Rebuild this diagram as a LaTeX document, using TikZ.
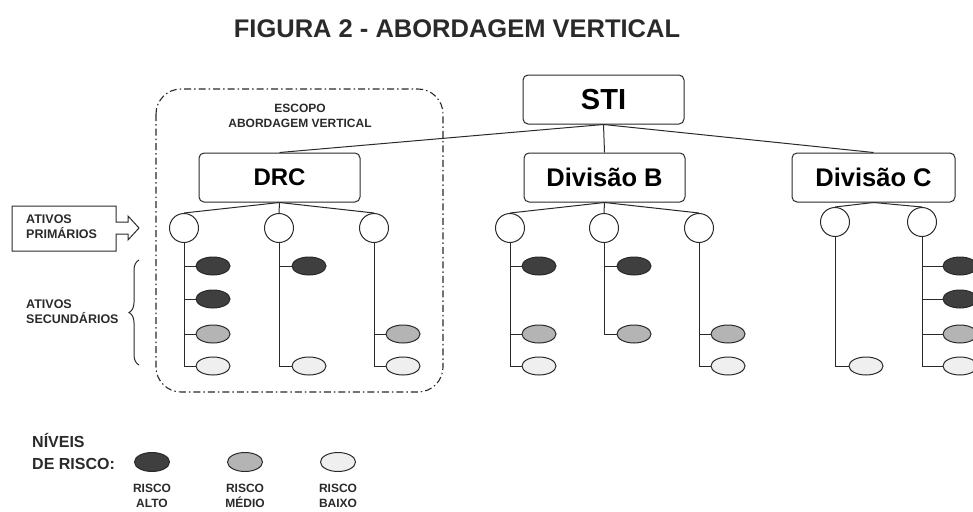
\documentclass[tikz,border=0pt]{standalone}
\usepackage{fontspec}
\setmainfont{Liberation Sans}
\usetikzlibrary{shapes.geometric,decorations.pathreplacing}

\definecolor{riskhigh}{HTML}{3F3F3F}
\definecolor{riskmid}{HTML}{B4B4B4}
\definecolor{risklow}{HTML}{EFEFEF}
\definecolor{ink}{HTML}{2A2A2A}

\begin{document}
\begin{tikzpicture}[x=1pt,y=-1pt,
  unitbox/.style={draw=ink, rounded corners=5pt, line width=1pt, fill=white,
    minimum width=161pt, minimum height=49pt, inner sep=0pt,
    font=\fontsize{24}{28}\selectfont\bfseries},
  asset/.style={circle, draw=ink, line width=1pt, fill=white,
    minimum size=29pt, inner sep=0pt},
  risk/.style={ellipse, draw=ink, line width=1pt,
    minimum width=34pt, minimum height=18pt, inner sep=0pt},
  alto/.style={risk, fill=riskhigh},
  medio/.style={risk, fill=riskmid},
  baixo/.style={risk, fill=risklow},
  link/.style={draw=ink, line width=1pt},
  small/.style={font=\fontsize{12.5}{15}\selectfont\bfseries, text=ink, inner sep=0pt},
  tiny/.style={font=\fontsize{12}{15}\selectfont\bfseries, text=ink, inner sep=0pt, align=center},
]
\useasboundingbox (0,0) rectangle (973,511);
\clip (0,0) rectangle (973,511);

% title
\node[font=\fontsize{25.5}{30}\selectfont\bfseries, text=ink] (title) at (457,29) {FIGURA 2 - ABORDAGEM VERTICAL};

% scope frame
\draw[draw=ink, line width=1.1pt, rounded corners=25pt,
  dash pattern=on 7pt off 3pt on 1.5pt off 3pt] (156,89) rectangle (443,392);
\node[tiny] (scope) at (300,115.5) {ESCOPO\\ABORDAGEM VERTICAL};

% hierarchy boxes
\node[unitbox, font=\fontsize{29}{32}\selectfont\bfseries] (sti) at (603.5,99.5) {STI};
\node[unitbox] (drc) at (279.5,177.5) {DRC};
\node[unitbox, font=\fontsize{25.5}{30}\selectfont\bfseries] (divb) at (604.5,177.5) {Divisão B};
\node[unitbox, minimum width=163pt, font=\fontsize{25.5}{30}\selectfont\bfseries] (divc) at (873.5,177.5) {Divisão C};

\draw[link] (sti.south) -- (drc.north);
\draw[link] (sti.south) -- (divb.north);
\draw[link] (sti.south) -- (divc.north);

% primary assets
\node[asset] (d1) at (184,228) {};
\node[asset] (d2) at (279,228) {};
\node[asset] (d3) at (374,228) {};
\node[asset] (b1) at (510,228) {};
\node[asset] (b2) at (604,228) {};
\node[asset] (b3) at (699,228) {};
\node[asset] (c1) at (835,222) {};
\node[asset] (c2) at (922,222) {};

\foreach \p in {d1,d2,d3} \draw[link] (drc.south) -- (\p.north);
\foreach \p in {b1,b2,b3} \draw[link] (divb.south) -- (\p.north);
\foreach \p in {c1,c2} \draw[link] (divc.south) -- (\p.north);

% secondary assets
\node[alto]  (d1a) at (213,266) {};
\node[alto]  (d1b) at (213,299) {};
\node[medio] (d1c) at (213,334) {};
\node[baixo] (d1d) at (213,366) {};
\node[alto]  (d2a) at (309,266) {};
\node[baixo] (d2d) at (309,366) {};
\node[medio] (d3c) at (403,334) {};
\node[baixo] (d3d) at (403,366) {};

\node[alto]  (b1a) at (539,266) {};
\node[medio] (b1c) at (539,334) {};
\node[baixo] (b1d) at (539,366) {};
\node[alto]  (b2a) at (634,266) {};
\node[medio] (b2c) at (634,334) {};
\node[medio] (b3c) at (728,334) {};
\node[baixo] (b3d) at (728,366) {};

\node[baixo] (c1d) at (866,366) {};
\node[alto]  (c2a) at (960,266) {};
\node[alto]  (c2b) at (960,299) {};
\node[medio] (c2c) at (960,334) {};
\node[baixo] (c2d) at (960,366) {};

% trunk lines: last child gets the elbow, others a branch
\draw[link] (d1.south) |- (d1d.west);
\foreach \e in {d1a,d1b,d1c} \draw[link] (d1.south |- \e.west) -- (\e.west);
\draw[link] (d2.south) |- (d2d.west);
\draw[link] (d2.south |- d2a.west) -- (d2a.west);
\draw[link] (d3.south) |- (d3d.west);
\draw[link] (d3.south |- d3c.west) -- (d3c.west);

\draw[link] (b1.south) |- (b1d.west);
\foreach \e in {b1a,b1c} \draw[link] (b1.south |- \e.west) -- (\e.west);
\draw[link] (b2.south) |- (b2c.west);
\draw[link] (b2.south |- b2a.west) -- (b2a.west);
\draw[link] (b3.south) |- (b3d.west);
\draw[link] (b3.south |- b3c.west) -- (b3c.west);

\draw[link] (c1.south) |- (c1d.west);
\draw[link] (c2.south) |- (c2d.west);
\foreach \e in {c2a,c2b,c2c} \draw[link] (c2.south |- \e.west) -- (\e.west);

% side annotations
\draw[draw=ink, line width=1pt]
  (12,206) -- (116,206) -- (116,222) -- (128,222) -- (128,216) -- (139,228)
  -- (128,240) -- (128,234) -- (116,234) -- (116,251) -- (12,251) -- cycle;
\node[small, anchor=west, align=left] (prim) at (26,227) {ATIVOS\\PRIMÁRIOS};

\coordinate (brtop) at (139,260);
\coordinate (brbot) at (139,365);
\draw[draw=ink, line width=1pt, decorate,
  decoration={brace, amplitude=10pt}] (brbot) -- (brtop);
\node[small, anchor=west, align=left] (sec) at (26,312) {ATIVOS\\SECUNDÁRIOS};

% legend
\node[font=\fontsize{16}{22}\selectfont\bfseries, text=ink, anchor=west, align=left, inner sep=0pt]
  (lvl) at (32,451) {NÍVEIS\\DE RISCO:};
\node[alto,  minimum width=35pt, minimum height=19pt] (lga) at (152,462) {};
\node[medio, minimum width=35pt, minimum height=19pt] (lgm) at (245,462) {};
\node[baixo, minimum width=35pt, minimum height=19pt] (lgb) at (338,462) {};
\node[tiny] (lta) at (152,496) {RISCO\\ALTO};
\node[tiny] (ltm) at (245,496) {RISCO\\MÉDIO};
\node[tiny] (ltb) at (338,496) {RISCO\\BAIXO};
\end{tikzpicture}
\end{document}
